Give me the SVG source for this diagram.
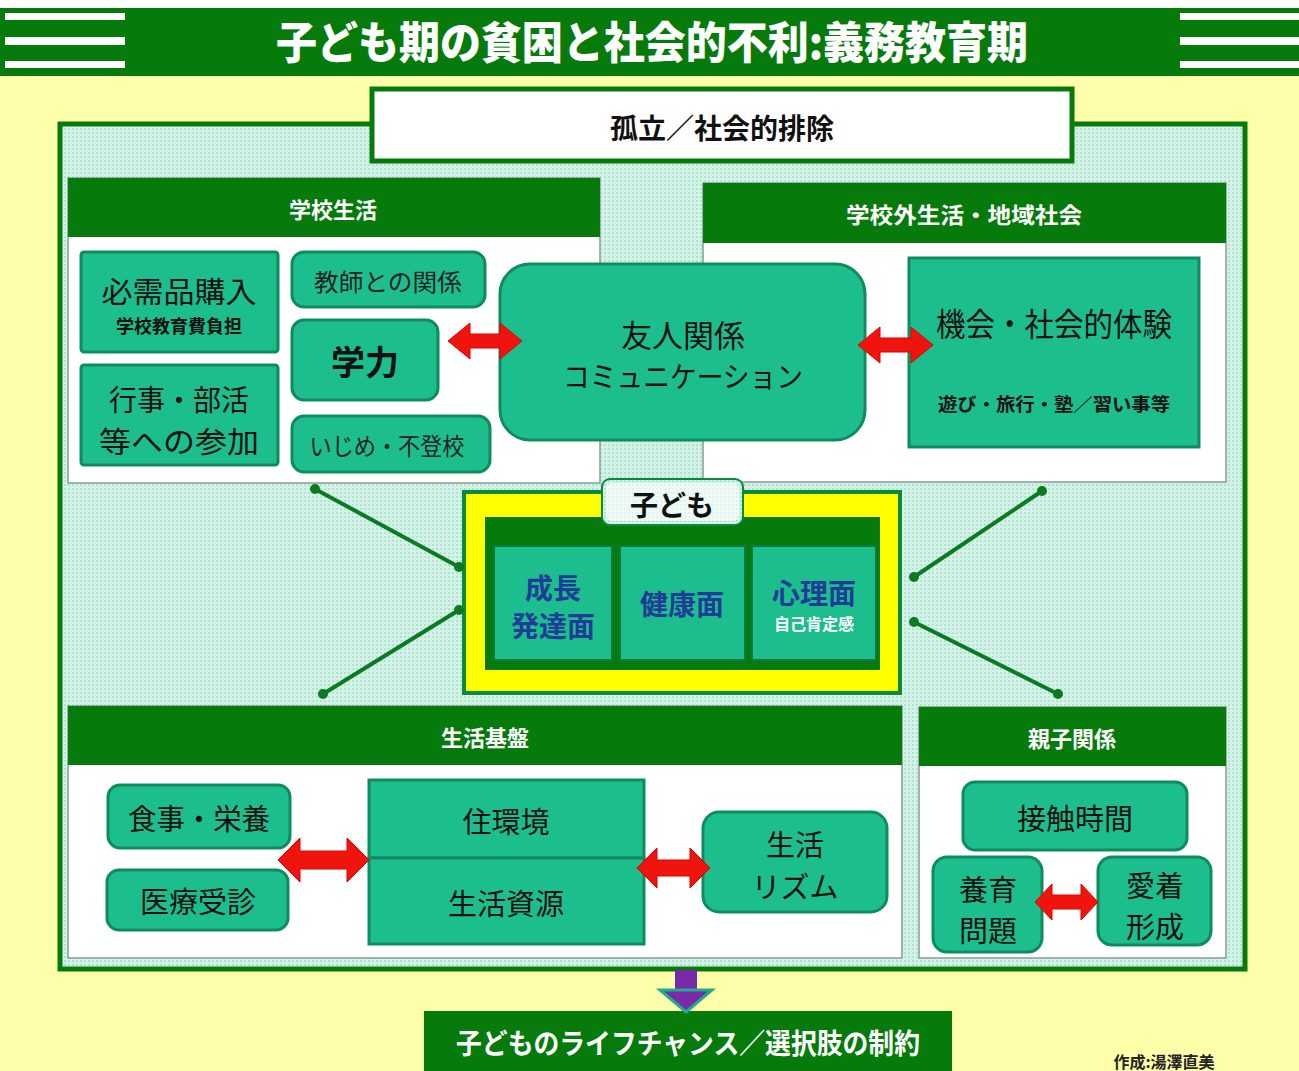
<svg xmlns="http://www.w3.org/2000/svg" width="1299" height="1071" viewBox="0 0 1299 1071">
<defs>
<pattern id="dots" width="4" height="4" patternUnits="userSpaceOnUse">
<rect width="4" height="4" fill="#D4F3E8"/>
<rect width="2" height="2" fill="#B2E2D0"/>
</pattern>
<style>
text{font-family:"Noto Sans CJK JP","Noto Sans",sans-serif;text-anchor:middle;dominant-baseline:central}
.hdr{fill:#067B0B}
.hdrt{fill:#fff;font-weight:bold;font-size:22px}
.panel{fill:#fff;stroke:#8A9A94;stroke-width:1.5}
.box{fill:#1DBE8E;stroke:#0F8C5E;stroke-width:3}
.bt{fill:#111;font-size:29px}
.cell{fill:#1DBE8E;stroke:#0D7A40;stroke-width:2}
.ct{fill:#1F3C96;font-size:28px;font-weight:bold}
.arr{fill:#F0140F;stroke:#E00000;stroke-width:1}
.ln{stroke:#0B7A20;stroke-width:4}
.dot{fill:#0B7A20}
.stripe{fill:#fff}
</style>
</defs>
<rect width="1299" height="1071" fill="#FFFFAA"/>
<rect x="0" y="0" width="1299" height="8" fill="#fff"/>
<g id="title">
<rect x="0" y="8" width="1299" height="68" class="hdr"/>
<rect x="5" y="13" width="120" height="7" class="stripe"/>
<rect x="5" y="37" width="120" height="8" class="stripe"/>
<rect x="5" y="61" width="120" height="7" class="stripe"/>
<rect x="1180" y="13" width="119" height="7" class="stripe"/>
<rect x="1180" y="37" width="119" height="8" class="stripe"/>
<rect x="1180" y="61" width="119" height="7" class="stripe"/>
<text x="652" y="40" fill="#fff" font-size="44" font-weight="900" textLength="752" lengthAdjust="spacingAndGlyphs">子ども期の貧困と社会的不利:義務教育期</text>
</g>
<g id="main">
<rect x="60" y="124" width="1185" height="845" fill="url(#dots)" stroke="#067B0B" stroke-width="5"/>
</g>
<g id="isolation">
<rect x="372" y="89" width="700" height="72" fill="#fff" stroke="#067B0B" stroke-width="5"/>
<text x="722" y="127" font-size="28" font-weight="bold" fill="#111">孤立／社会的排除</text>
</g>
<g id="school">
<rect x="68" y="178" width="532" height="305" class="panel"/>
<rect x="68" y="178" width="532" height="59" class="hdr"/>
<text x="333" y="208" class="hdrt">学校生活</text>
</g>
<g id="hitsujuhin">
<rect x="81" y="252" width="197" height="100" class="box" rx="3"/>
<text x="179" y="290" class="bt" textLength="155" lengthAdjust="spacingAndGlyphs">必需品購入</text>
<text x="179" y="325" font-size="18" font-weight="bold" fill="#111">学校教育費負担</text>
</g>
<g id="gyoji">
<rect x="81" y="365" width="197" height="100" class="box" rx="3"/>
<text x="179" y="398" class="bt" textLength="140" lengthAdjust="spacingAndGlyphs">行事・部活</text>
<text x="179" y="440" class="bt" textLength="160" lengthAdjust="spacingAndGlyphs">等への参加</text>
</g>
<g id="kyoshi">
<rect x="292" y="252" width="193" height="55" class="box" rx="12"/>
<text x="388" y="280" font-size="24" fill="#222" textLength="148" lengthAdjust="spacingAndGlyphs">教師との関係</text>
</g>
<g id="gakuryoku">
<rect x="292" y="320" width="146" height="80" class="box" rx="12"/>
<text x="365" y="360" font-size="34" font-weight="bold" fill="#111">学力</text>
</g>
<g id="ijime">
<rect x="292" y="416" width="198" height="56" class="box" rx="12"/>
<text x="387" y="444" font-size="24" fill="#222" textLength="155" lengthAdjust="spacingAndGlyphs">いじめ・不登校</text>
</g>
<g id="outside">
<rect x="703" y="183" width="523" height="299" class="panel"/>
<rect x="703" y="183" width="523" height="60" class="hdr"/>
<text x="964" y="213" class="hdrt" textLength="236" lengthAdjust="spacingAndGlyphs">学校外生活・地域社会</text>
</g>
<g id="yujin">
<rect x="500" y="264" width="365" height="176" class="box" rx="30"/>
<text x="683" y="333" font-size="31" fill="#111">友人関係</text>
<text x="683" y="375" font-size="29" fill="#111" textLength="240" lengthAdjust="spacingAndGlyphs">コミュニケーション</text>
</g>
<g id="kikai">
<rect x="909" y="258" width="290" height="189" class="box"/>
<text x="1054" y="322" font-size="32" fill="#111" textLength="236" lengthAdjust="spacingAndGlyphs">機会・社会的体験</text>
<text x="1054" y="403" font-size="18" font-weight="bold" fill="#111" textLength="232" lengthAdjust="spacingAndGlyphs">遊び・旅行・塾／習い事等</text>
</g>
<g id="child">
<rect x="464" y="492" width="436" height="201" fill="#FFFF00" stroke="#0B8A3A" stroke-width="4"/>
<rect x="485" y="517" width="395" height="153" fill="#067B0B"/>
<rect x="494" y="546" width="118" height="114" class="cell"/>
<rect x="620" y="546" width="125" height="114" class="cell"/>
<rect x="752" y="546" width="124" height="114" class="cell"/>
<text x="553" y="587" class="ct">成長</text>
<text x="553" y="625" class="ct">発達面</text>
<text x="682" y="603" class="ct">健康面</text>
<text x="814" y="592" class="ct">心理面</text>
<text x="814" y="623" font-size="16" font-weight="bold" fill="#fff">自己肯定感</text>
<rect x="602" y="479" width="141" height="46" rx="8" fill="url(#dots)" stroke="#0B8A3A" stroke-width="2"/>
<rect x="606" y="483" width="133" height="38" rx="6" fill="#fff" opacity="0.6"/>
<text x="672" y="504" font-size="28" font-weight="bold" fill="#111">子ども</text>
</g>
<g id="seikatsukiban">
<rect x="68" y="706" width="834" height="252" class="panel"/>
<rect x="68" y="706" width="834" height="59" class="hdr"/>
<text x="485" y="736" class="hdrt">生活基盤</text>
</g>
<g id="shokuji">
<rect x="108" y="785" width="182" height="63" class="box" rx="12"/>
<text x="199" y="817" class="bt" textLength="142" lengthAdjust="spacingAndGlyphs">食事・栄養</text>
</g>
<g id="iryo">
<rect x="107" y="870" width="181" height="60" class="box" rx="12"/>
<text x="198" y="900" class="bt">医療受診</text>
</g>
<g id="jukankyo">
<rect x="369" y="780" width="275" height="78" class="box"/>
<text x="506" y="820" class="bt">住環境</text>
</g>
<g id="seikatsushigen">
<rect x="369" y="858" width="275" height="86" class="box"/>
<text x="506" y="902" class="bt">生活資源</text>
</g>
<g id="rizumu">
<rect x="703" y="812" width="184" height="100" class="box" rx="16"/>
<text x="795" y="843" class="bt">生活</text>
<text x="795" y="885" class="bt">リズム</text>
</g>
<g id="oyako">
<rect x="919" y="707" width="307" height="251" class="panel"/>
<rect x="919" y="707" width="307" height="59" class="hdr"/>
<text x="1072" y="737" class="hdrt">親子関係</text>
</g>
<g id="sesshoku">
<rect x="963" y="782" width="224" height="68" class="box" rx="12"/>
<text x="1075" y="817" class="bt">接触時間</text>
</g>
<g id="yoiku">
<rect x="933" y="857" width="109" height="95" class="box" rx="14"/>
<text x="988" y="888" class="bt">養育</text>
<text x="988" y="929" class="bt">問題</text>
</g>
<g id="aichaku">
<rect x="1098" y="857" width="113" height="88" class="box" rx="14"/>
<text x="1155" y="884" class="bt">愛着</text>
<text x="1155" y="925" class="bt">形成</text>
</g>
<g id="lifechance">
<rect x="424" y="1011" width="528" height="60" class="hdr"/>
<text x="688" y="1042" font-size="28" font-weight="bold" fill="#fff" textLength="464" lengthAdjust="spacingAndGlyphs">子どものライフチャンス／選択肢の制約</text>
</g>
<text x="1164" y="1061" font-size="16" font-weight="bold" fill="#222">作成:湯澤直美</text>
<g id="connectors">
<line x1="315" y1="489" x2="459" y2="567" class="ln"/>
<circle cx="315" cy="489" r="5" class="dot"/><circle cx="459" cy="567" r="5" class="dot"/>
<line x1="459" y1="610" x2="323" y2="694" class="ln"/>
<circle cx="459" cy="610" r="5" class="dot"/><circle cx="323" cy="694" r="5" class="dot"/>
<line x1="1042" y1="491" x2="914" y2="577" class="ln"/>
<circle cx="1042" cy="491" r="5" class="dot"/><circle cx="914" cy="577" r="5" class="dot"/>
<line x1="914" y1="622" x2="1058" y2="694" class="ln"/>
<circle cx="914" cy="622" r="5" class="dot"/><circle cx="1058" cy="694" r="5" class="dot"/>
<polygon class="arr" points="448,341 470,323 470,334 500,334 500,323 522,341 500,359 500,348 470,348 470,359"/>
<polygon class="arr" points="858,345 880,327 880,338 911,338 911,327 933,345 911,363 911,352 880,352 880,363"/>
<polygon class="arr" points="278,860 300,838 300,851 347,851 347,838 369,860 347,882 347,869 300,869 300,882"/>
<polygon class="arr" points="637,868 657,848 657,860 690,860 690,848 710,868 690,888 690,876 657,876 657,888"/>
<polygon class="arr" points="1035,902 1052,884 1052,895 1081,895 1081,884 1098,902 1081,920 1081,909 1052,909 1052,920"/>
<rect x="675" y="970" width="22" height="22" fill="#7A2AA8"/>
<polygon points="660,990 712,990 686,1012" fill="#7A2AA8" stroke="#1DAE8E" stroke-width="3"/>
</g>
</svg>
